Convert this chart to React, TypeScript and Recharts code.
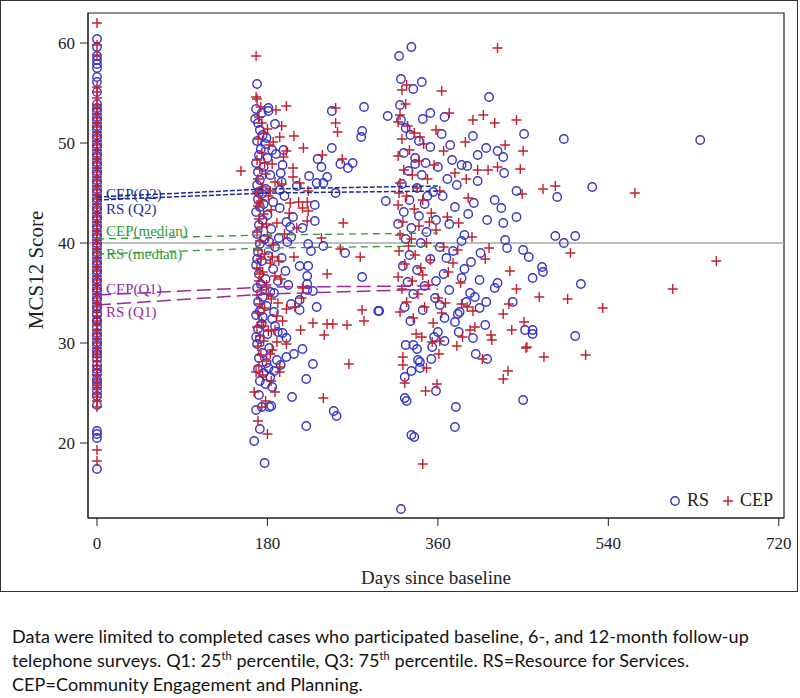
import React from 'react'
import {
  ScatterChart,
  Scatter,
  XAxis,
  YAxis,
  ReferenceLine,
  ReferenceArea,
  ReferenceDot,
} from 'recharts'

// baseline (day 0) scores
const rsBaseline = [
  17.4, 20.5, 20.9, 21.2, 23.8, 24.7, 25.2, 25.7, 26.1, 26.4, 27.0, 27.4, 27.8, 28.5, 28.9, 29.2, 29.8, 30.1,
  30.7, 31.0, 31.6, 32.1, 32.3, 32.9, 33.4, 33.7, 34.3, 34.6, 35.2, 35.5, 36.1, 36.4, 37.0, 37.3, 37.9, 38.2,
  38.8, 39.1, 39.7, 40.0, 40.6, 40.9, 41.5, 41.8, 42.4, 42.7, 43.3, 43.6, 44.2, 44.5, 45.1, 45.4, 46.0, 46.3,
  46.9, 47.2, 47.8, 48.1, 48.7, 49.0, 49.6, 49.9, 50.5, 50.8, 51.4, 51.7, 52.3, 52.6, 53.2, 53.5, 53.9, 55.1,
  56.1, 56.6, 57.5, 57.9, 58.3, 58.7, 59.6, 60.4,
]
const cepBaseline = [
  18.2, 19.3, 23.6, 24.2, 24.6, 24.9, 25.5, 25.9, 26.3, 26.8, 27.3, 27.7, 28.2, 28.6, 29.1, 29.5, 30.0, 30.4,
  30.9, 31.3, 31.8, 32.2, 32.7, 33.1, 33.6, 34.0, 34.5, 34.9, 35.4, 35.8, 36.3, 36.7, 37.2, 37.6, 38.1, 38.5,
  39.0, 39.4, 39.9, 40.3, 40.8, 41.2, 41.7, 42.1, 42.6, 43.0, 43.5, 43.9, 44.4, 44.8, 45.3, 45.7, 46.2, 46.6,
  47.1, 47.5, 48.0, 48.4, 48.9, 49.3, 49.8, 50.2, 50.7, 51.1, 51.6, 52.0, 52.5, 52.9, 53.4, 53.8, 54.5, 55.1,
  55.6, 58.8, 59.8, 62.0,
]

// [day, score]
const rsSixMonth = [
  [169, 55.9], [168, 53.4], [181, 53.5], [181, 53.2], [248, 53.2], [282, 53.6], [280, 51.2], [279, 50.6],
  [188, 51.9], [197, 49.3], [248, 49.5], [233, 48.4], [237, 47.6], [257, 47.9], [265, 47.5], [270, 48.0],
  [224, 46.7], [232, 46.0], [239, 46.0], [243, 46.6], [211, 45.7], [252, 45.0], [194, 47.0], [195, 46.1],
  [193, 45.3], [230, 43.8], [207, 42.6], [230, 42.2], [200, 42.1], [204, 41.6], [217, 41.5], [205, 40.6],
  [223, 39.9], [226, 39.2], [239, 39.7], [262, 39.0], [214, 37.7], [223, 37.7], [201, 40.1], [280, 36.6],
  [222, 36.7], [222, 35.9], [222, 35.3], [228, 35.2], [214, 34.3], [232, 33.6], [214, 33.3], [297, 33.2],
  [187, 33.1], [188, 31.7], [191, 31.1], [196, 31.0], [200, 30.5], [217, 29.4], [208, 28.9], [200, 28.6],
  [190, 28.3], [228, 27.9], [221, 26.4], [206, 24.6], [168, 23.3], [174, 23.6], [182, 23.6], [184, 23.7],
  [250, 23.2], [253, 22.7], [221, 21.7], [172, 21.4], [166, 20.2], [177, 18.0],
  [170, 52.0], [172, 51.3], [175, 50.8], [169, 50.2], [178, 49.9], [173, 49.4], [171, 48.8], [180, 48.5],
  [168, 48.0], [176, 47.6], [170, 47.1], [183, 46.8], [172, 46.3], [169, 45.8], [178, 45.4], [174, 44.9],
  [170, 44.4], [186, 44.1], [172, 43.6], [168, 43.1], [180, 42.8], [175, 42.3], [171, 41.8], [184, 41.4],
  [169, 40.9], [177, 40.4], [172, 39.9], [188, 39.6], [170, 39.1], [181, 38.7], [174, 38.2], [168, 37.8],
  [186, 37.4], [171, 36.9], [178, 36.4], [173, 35.9], [169, 35.5], [183, 35.1], [175, 34.6], [170, 34.1],
  [179, 33.7], [172, 33.2], [168, 32.8], [185, 32.4], [174, 31.9], [170, 31.4], [180, 30.9], [172, 30.4],
  [169, 29.9], [182, 29.5], [175, 29.0], [171, 28.5], [179, 28.0], [170, 27.4], [176, 27.0], [183, 26.6],
  [172, 26.2], [178, 25.9], [191, 36.2], [195, 38.5], [199, 37.2], [193, 43.5], [189, 48.9], [198, 44.7],
  [202, 35.8], [205, 33.9], [187, 27.2], [194, 27.8], [185, 25.6],
  [167, 52.4], [174, 53.0], [179, 50.5], [185, 49.3], [171, 45.0], [176, 43.9], [182, 40.1], [169, 38.4],
  [175, 32.6], [181, 27.5], [168, 30.6], [187, 35.0], [192, 40.5], [196, 47.8], [171, 24.8],
]
const cepSixMonth = [
  [168, 58.7], [168, 54.6], [169, 54.4], [189, 53.3], [200, 53.7], [252, 53.5], [252, 52.0], [254, 51.1],
  [195, 51.7], [193, 50.6], [208, 50.7], [174, 52.0], [200, 49.2], [218, 49.5], [238, 48.8], [259, 48.4],
  [152, 47.2], [207, 47.5], [207, 46.6], [214, 46.0], [223, 45.2], [204, 44.0], [213, 44.1], [222, 44.1],
  [217, 43.5], [223, 43.2], [222, 42.2], [211, 41.5], [260, 42.0], [237, 40.5], [257, 39.4], [278, 38.6],
  [208, 38.6], [243, 36.9], [217, 35.5], [216, 34.5], [280, 33.3], [282, 32.2], [200, 33.4], [196, 32.2],
  [209, 33.6], [215, 31.3], [228, 32.0], [243, 31.9], [249, 31.9], [264, 31.8], [240, 30.8], [188, 31.3],
  [190, 30.1], [266, 27.9], [193, 27.6], [193, 27.1], [239, 24.5], [166, 25.1], [188, 25.1], [174, 23.6],
  [170, 22.2], [180, 20.9],
  [171, 52.6], [176, 51.0], [170, 50.4], [182, 49.8], [174, 49.0], [169, 48.3], [185, 47.9], [172, 47.4],
  [178, 46.9], [170, 46.4], [188, 46.1], [175, 45.6], [169, 45.1], [181, 44.7], [173, 44.2], [170, 43.7],
  [184, 43.3], [176, 42.9], [171, 42.4], [190, 42.0], [174, 41.6], [169, 41.1], [180, 40.7], [172, 40.2],
  [186, 39.8], [170, 39.3], [177, 38.9], [173, 38.4], [183, 38.0], [169, 37.5], [175, 37.1], [188, 36.7],
  [171, 36.2], [179, 35.8], [174, 35.3], [169, 34.8], [184, 34.4], [172, 33.9], [177, 33.5], [170, 33.0],
  [190, 32.7], [174, 32.1], [169, 31.6], [181, 31.2], [172, 30.7], [176, 30.2], [170, 29.7], [185, 29.3],
  [173, 28.8], [179, 28.2], [171, 27.7], [175, 26.8], [184, 26.2], [195, 45.9], [198, 40.9], [194, 36.4],
  [200, 29.9], [197, 48.6], [203, 43.0], [191, 34.0],
  [173, 53.6], [180, 51.4], [186, 50.1], [177, 48.0], [183, 45.2], [171, 44.0], [179, 41.9], [185, 38.6],
  [172, 36.9], [181, 34.9], [176, 31.7], [183, 28.9], [168, 27.1], [178, 24.2], [192, 38.2],
]
const rsTwelveMonth = [
  [319, 58.7], [332, 59.6], [321, 56.4], [343, 56.1], [334, 55.4], [414, 54.6], [307, 52.7], [320, 53.8],
  [367, 52.6], [344, 52.4], [451, 50.9], [493, 50.4], [637, 50.3], [397, 50.7], [373, 49.8], [411, 49.5],
  [423, 49.2], [402, 48.8], [429, 48.6], [430, 47.0], [385, 47.8], [391, 47.7], [443, 45.2], [486, 44.6],
  [523, 45.6], [305, 44.2], [484, 40.7], [493, 40.0], [505, 40.7], [420, 44.3], [443, 42.6], [429, 42.0],
  [427, 43.5], [412, 42.3], [431, 40.3], [433, 39.5], [450, 39.3], [456, 38.6], [470, 37.6], [471, 37.1],
  [460, 36.5], [511, 35.9], [505, 30.7], [321, 13.4], [332, 20.8], [335, 20.6], [379, 23.6], [378, 21.6],
  [325, 24.5], [327, 24.2], [450, 24.3], [358, 25.2], [325, 26.6], [332, 27.2], [341, 27.5], [339, 28.3],
  [341, 28.1], [353, 28.4], [400, 28.9], [412, 28.4], [326, 29.8], [334, 29.8], [338, 29.4], [354, 29.6],
  [397, 30.5], [367, 30.2], [356, 30.6], [382, 31.1], [360, 31.1], [452, 31.3], [460, 30.9], [460, 31.3],
  [439, 34.1], [411, 34.1], [404, 33.5], [399, 34.6], [394, 35.0], [404, 36.3], [420, 35.5], [423, 36.0],
  [381, 32.9], [383, 33.1], [378, 32.1], [367, 32.5], [298, 33.2],
  [326, 51.5], [331, 50.8], [340, 50.2], [352, 49.6], [324, 49.0], [336, 48.5], [347, 48.0], [360, 47.6],
  [329, 47.2], [343, 46.8], [370, 46.4], [322, 45.9], [338, 45.5], [355, 45.1], [365, 44.7], [330, 44.3],
  [346, 43.9], [378, 43.6], [324, 43.1], [340, 42.7], [358, 42.3], [372, 41.9], [332, 41.5], [348, 41.1],
  [388, 40.8], [326, 40.4], [342, 40.0], [362, 39.6], [376, 39.2], [330, 38.8], [352, 38.4], [395, 38.1],
  [323, 37.7], [338, 37.3], [366, 36.9], [385, 36.5], [328, 36.1], [346, 35.7], [372, 35.3], [334, 34.9],
  [357, 34.5], [390, 34.1], [325, 33.6], [344, 33.3], [362, 33.8], [405, 39.0], [392, 42.9], [380, 45.8],
  [402, 46.2], [364, 50.9], [352, 53.0], [375, 48.3], [388, 37.4], [410, 31.8],
  [321, 52.3], [336, 47.9], [349, 44.7], [318, 41.9], [358, 36.2], [331, 32.2], [369, 38.5], [385, 40.2],
  [398, 44.0],
]
const cepTwelveMonth = [
  [423, 59.5], [322, 55.3], [327, 55.8], [364, 55.2], [318, 52.1], [408, 52.8], [443, 52.3], [397, 52.3],
  [420, 52.0], [450, 49.2], [431, 49.8], [447, 47.4], [423, 47.6], [413, 47.3], [402, 47.3], [389, 50.1],
  [471, 45.4], [484, 45.7], [449, 44.9], [414, 39.5], [410, 38.4], [568, 45.0], [500, 39.0], [497, 34.4],
  [534, 33.5], [608, 35.4], [654, 38.2], [516, 28.8], [344, 17.9], [347, 25.2], [359, 25.9], [429, 26.4],
  [434, 27.2], [325, 26.0], [348, 27.5], [323, 27.8], [323, 28.6], [361, 28.9], [407, 28.4], [472, 28.6],
  [454, 29.6], [380, 29.7], [386, 30.6], [416, 30.8], [417, 30.3], [343, 30.6], [337, 30.9], [354, 30.1],
  [362, 30.2], [394, 31.3], [399, 31.6], [438, 31.3], [453, 29.5], [451, 32.1], [429, 32.9], [435, 33.9],
  [443, 35.4], [467, 34.6], [436, 37.2], [397, 33.2], [391, 33.6], [385, 33.9], [368, 34.0],
  [320, 52.8], [328, 51.7], [335, 51.0], [322, 50.4], [345, 49.9], [330, 49.3], [318, 48.7], [340, 48.2],
  [356, 47.8], [324, 47.3], [333, 46.8], [349, 46.4], [320, 46.0], [338, 45.5], [362, 45.2], [327, 44.7],
  [344, 44.3], [318, 43.8], [335, 43.4], [353, 43.0], [370, 42.6], [323, 42.1], [340, 41.7], [358, 41.3],
  [320, 40.8], [332, 40.4], [348, 40.0], [366, 39.6], [319, 39.2], [336, 38.8], [352, 38.3], [325, 37.9],
  [342, 37.5], [371, 37.1], [318, 36.6], [333, 36.2], [350, 35.8], [322, 35.4], [339, 34.9], [360, 34.5],
  [327, 34.1], [346, 33.6], [320, 33.1], [334, 32.5], [355, 32.0], [376, 38.0], [382, 42.0], [392, 44.5],
  [378, 47.0], [366, 49.2], [384, 36.0], [396, 40.6], [358, 51.3], [372, 53.0],
  [326, 53.9], [341, 50.6], [319, 45.0], [351, 42.1], [329, 39.7], [344, 36.8], [364, 33.0], [381, 39.3],
  [390, 46.4],
]

// quantile trend lines
const lineDays = [0, 180, 360]
const cepQ2 = [44.6, 45.4, 45.7]
const rsQ2 = [44.3, 45.0, 45.2]
const cepMedian = [40.4, 40.8, 41.0]
const rsMedian = [38.9, 39.5, 39.7]
const cepQ1 = [34.8, 35.6, 35.7]
const rsQ1 = [33.8, 34.9, 35.4]

const xTicks = [0, 180, 360, 540, 720]
const yTicks = [20, 30, 40, 50, 60]

const RS_BLUE = '#3434cc'
const CEP_RED = '#c41f2d'
const NAVY = '#1e2a92'
const GREEN = '#2f9a33'
const PURPLE = '#962a98'
const SERIF = '"Liberation Serif", "Times New Roman", serif'

const pts = (rows: number[][]) => rows.map(([day, score]) => ({ day, score }))
const base = (scores: number[]) => scores.map((score) => ({ day: 0, score }))
const trend = (scores: number[]) => scores.map((score, i) => ({ day: lineDays[i], score }))

const rsData = [...base(rsBaseline), ...pts(rsSixMonth), ...pts(rsTwelveMonth)]
const cepData = [...base(cepBaseline), ...pts(cepSixMonth), ...pts(cepTwelveMonth)]

const CircleMark = (p: any) => (
  <circle cx={p.cx} cy={p.cy} r={4.2} fill="none" stroke={RS_BLUE} strokeWidth={1.4} />
)
const PlusMark = (p: any) => (
  <path
    d={`M${p.cx - 5},${p.cy}h10M${p.cx},${p.cy - 5}v10`}
    stroke={CEP_RED}
    strokeWidth={1.4}
    fill="none"
  />
)
const NoMark = () => <g />

const lineLabels = [
  { text: 'CEP(Q2)', y: 44.4, color: NAVY },
  { text: 'RS (Q2)', y: 42.9, color: NAVY },
  { text: 'CEP(median)', y: 40.7, color: GREEN },
  { text: 'RS (median)', y: 38.4, color: GREEN },
  { text: 'CEP(Q1)', y: 34.9, color: PURPLE },
  { text: 'RS (Q1)', y: 32.6, color: PURPLE },
]

export default function App() {
  return (
    <div style={{ position: 'absolute', left: 0, top: 0, width: 800, height: 698, background: '#fff' }}>
      <div
        style={{
          position: 'absolute',
          left: 0,
          top: 0,
          width: 796,
          height: 590,
          border: '1.5px solid #333',
        }}
      />
      <div style={{ position: 'absolute', left: 0, top: 0 }}>
        <ScatterChart width={800} height={595} margin={{ top: 13, right: 16, bottom: 20, left: 0 }}>
          <XAxis
            type="number"
            dataKey="day"
            domain={[-9.5, 725.5]}
            ticks={xTicks}
            interval={0}
            allowDataOverflow
            height={57}
            tickSize={8}
            tickMargin={11}
            stroke="#222"
            tick={{ fontSize: 17, fontFamily: SERIF, fill: '#222' }}
            label={{
              content: () => (
                <text x={436} y={584} textAnchor="middle" fontSize={19} fontFamily={SERIF} fill="#222">
                  Days since baseline
                </text>
              ),
            }}
          />
          <YAxis
            type="number"
            dataKey="score"
            domain={[12.5, 63]}
            ticks={yTicks}
            interval={0}
            allowDataOverflow
            width={88}
            tickSize={8}
            tickMargin={5}
            stroke="#222"
            tick={{ fontSize: 17, fontFamily: SERIF, fill: '#222' }}
            label={{
              content: () => (
                <text
                  x={43}
                  y={270}
                  textAnchor="middle"
                  fontSize={21}
                  fontFamily={SERIF}
                  fill="#222"
                  transform="rotate(-90 43 270)"
                >
                  MCS12 Score
                </text>
              ),
            }}
          />
          <ReferenceArea
            x1={-9.5}
            x2={725.5}
            y1={12.5}
            y2={63}
            fill="none"
            stroke="#222"
            strokeWidth={1.2}
            ifOverflow="visible"
          />
          <ReferenceLine y={40} stroke="#a9a9a9" strokeWidth={1.6} />
          <Scatter name="RS" data={rsData} shape={CircleMark} isAnimationActive={false} />
          <Scatter name="CEP" data={cepData} shape={PlusMark} isAnimationActive={false} />
          <Scatter
            data={trend(cepQ2)}
            shape={NoMark}
            line={{ stroke: NAVY, strokeWidth: 1.5, strokeDasharray: '5 2' }}
            isAnimationActive={false}
          />
          <Scatter
            data={trend(rsQ2)}
            shape={NoMark}
            line={{ stroke: NAVY, strokeWidth: 1.5, strokeDasharray: '5 2' }}
            isAnimationActive={false}
          />
          <Scatter
            data={trend(cepMedian)}
            shape={NoMark}
            line={{ stroke: GREEN, strokeWidth: 1.3, strokeDasharray: '7 5' }}
            isAnimationActive={false}
          />
          <Scatter
            data={trend(rsMedian)}
            shape={NoMark}
            line={{ stroke: GREEN, strokeWidth: 1.3, strokeDasharray: '7 5' }}
            isAnimationActive={false}
          />
          <Scatter
            data={trend(cepQ1)}
            shape={NoMark}
            line={{ stroke: PURPLE, strokeWidth: 1.5, strokeDasharray: '14 6' }}
            isAnimationActive={false}
          />
          <Scatter
            data={trend(rsQ1)}
            shape={NoMark}
            line={{ stroke: PURPLE, strokeWidth: 1.5, strokeDasharray: '14 6' }}
            isAnimationActive={false}
          />
          {lineLabels.map((l) => (
            <ReferenceDot
              key={l.text}
              x={0}
              y={l.y}
              ifOverflow="visible"
              shape={(p: any) => (
                <text x={p.cx + 9} y={p.cy} fontSize={15} fontFamily={SERIF} fill={l.color}>
                  {l.text}
                </text>
              )}
            />
          ))}
        </ScatterChart>
      </div>
      <div
        style={{
          position: 'absolute',
          left: 668,
          top: 490,
          display: 'flex',
          alignItems: 'center',
          fontFamily: SERIF,
          fontSize: 18,
          color: '#222',
        }}
      >
        <svg width={14} height={14}>
          <circle cx={7} cy={7} r={4.2} fill="none" stroke={RS_BLUE} strokeWidth={1.4} />
        </svg>
        <span style={{ marginLeft: 5 }}>RS</span>
        <svg width={14} height={14} style={{ marginLeft: 12 }}>
          <path d="M2,7h10M7,2v10" stroke={CEP_RED} strokeWidth={1.4} />
        </svg>
        <span style={{ marginLeft: 5 }}>CEP</span>
      </div>
      <div
        style={{
          position: 'absolute',
          left: 12,
          top: 624,
          width: 785,
          fontFamily: 'Lato, "Noto Sans", sans-serif',
          fontSize: 18,
          letterSpacing: 0.08,
          lineHeight: '24px',
          color: '#111',
          whiteSpace: 'nowrap',
        }}
      >
        Data were limited to completed cases who participated baseline, 6-, and 12-month follow-up
        <br />
        telephone surveys. Q1: 25<sup style={{ fontSize: 11, lineHeight: 0 }}>th</sup> percentile, Q3: 75
        <sup style={{ fontSize: 11, lineHeight: 0 }}>th</sup> percentile. RS=Resource for Services.
        <br />
        CEP=Community Engagement and Planning.
      </div>
    </div>
  )
}
